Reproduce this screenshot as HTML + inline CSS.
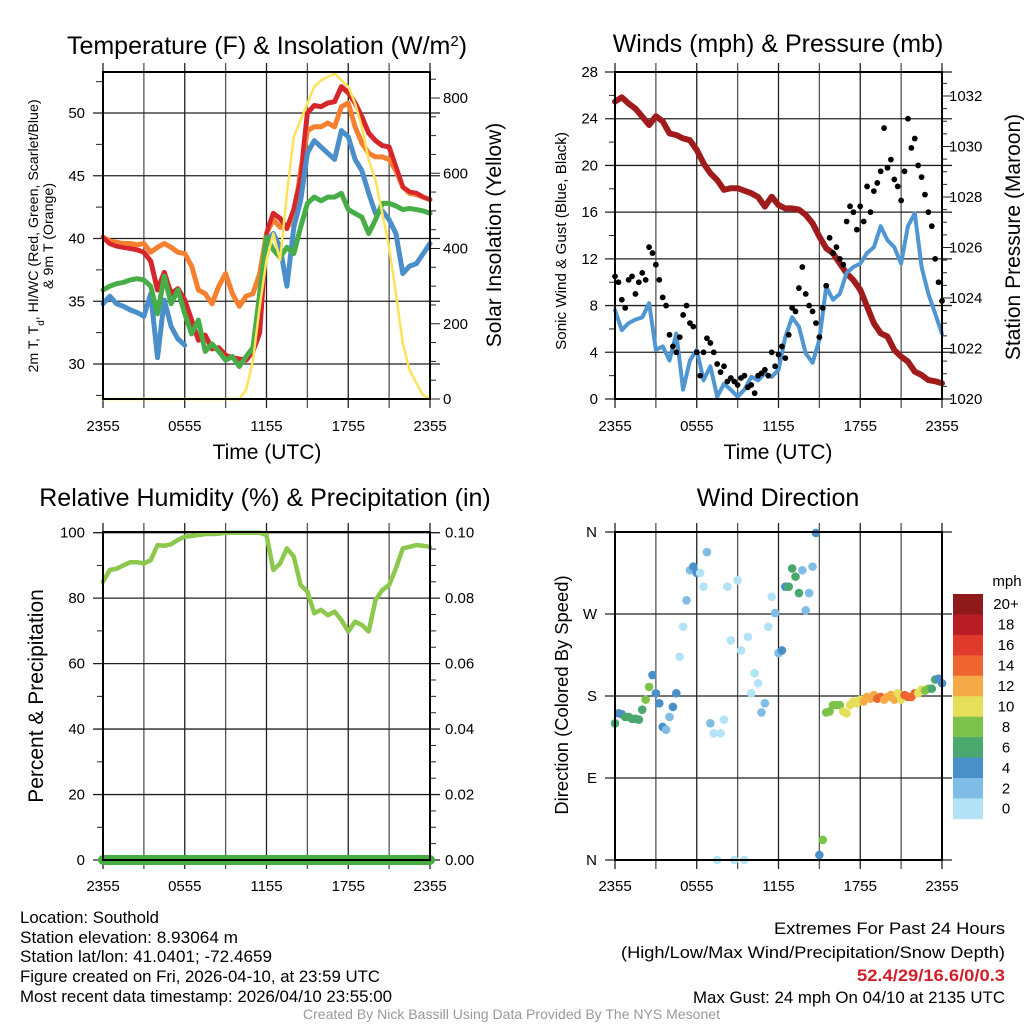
<!DOCTYPE html>
<html><head><meta charset="utf-8"><style>
html,body{margin:0;padding:0;background:#fff;}
svg{display:block;font-family:"Liberation Sans",Arial,sans-serif;}
</style></head><body>
<svg id="chart" width="1024" height="1024" viewBox="0 0 1024 1024" xmlns="http://www.w3.org/2000/svg">
<rect x="0" y="0" width="1024" height="1024" fill="#fff"/>
<g id="layer"></g>
<!-- titles -->
<text x="267" y="54" font-size="25" text-anchor="middle">Temperature (F) &amp; Insolation (W/m<tspan baseline-shift="super" font-size="15">2</tspan>)</text>
<text x="778" y="52" font-size="25" text-anchor="middle">Winds (mph) &amp; Pressure (mb)</text>
<text x="265" y="506" font-size="25" text-anchor="middle">Relative Humidity (%) &amp; Precipitation (in)</text>
<text x="778" y="506" font-size="25" text-anchor="middle">Wind Direction</text>
<text x="267" y="459" font-size="21" text-anchor="middle">Time (UTC)</text>
<text x="778" y="459" font-size="21" text-anchor="middle">Time (UTC)</text>
<text font-size="14.2" text-anchor="middle" transform="translate(38,236) rotate(-90)">2m T, T<tspan baseline-shift="sub" font-size="10">d</tspan>, HI/WC (Red, Green, Scarlet/Blue)</text>
<text font-size="14.2" text-anchor="middle" transform="translate(53,236) rotate(-90)">&amp; 9m T (Orange)</text>
<text font-size="21" text-anchor="middle" transform="translate(501,235) rotate(-90)">Solar Insolation (Yellow)</text>
<text font-size="15.2" text-anchor="middle" transform="translate(566,241) rotate(-90)">Sonic Wind &amp; Gust (Blue, Black)</text>
<text font-size="21" text-anchor="middle" transform="translate(1020,237) rotate(-90)">Station Pressure (Maroon)</text>
<text font-size="21" text-anchor="middle" transform="translate(43,696) rotate(-90)">Percent &amp; Precipitation</text>
<text font-size="18.4" text-anchor="middle" transform="translate(568,695) rotate(-90)">Direction (Colored By Speed)</text>
<!-- footer -->
<g font-size="16.5">
<text x="20" y="923" textLength="139" lengthAdjust="spacingAndGlyphs">Location: Southold</text>
<text x="20" y="943" textLength="218" lengthAdjust="spacingAndGlyphs">Station elevation: 8.93064 m</text>
<text x="20" y="962" textLength="252" lengthAdjust="spacingAndGlyphs">Station lat/lon: 41.0401; -72.4659</text>
<text x="20" y="982" textLength="360" lengthAdjust="spacingAndGlyphs">Figure created on Fri, 2026-04-10, at 23:59 UTC</text>
<text x="20" y="1002" textLength="372" lengthAdjust="spacingAndGlyphs">Most recent data timestamp: 2026/04/10 23:55:00</text>
</g>
<g font-size="16.5">
<text x="774" y="934" textLength="231" lengthAdjust="spacingAndGlyphs">Extremes For Past 24 Hours</text>
<text x="621" y="958" textLength="384" lengthAdjust="spacingAndGlyphs">(High/Low/Max Wind/Precipitation/Snow Depth)</text>
<text x="857" y="981" textLength="148" lengthAdjust="spacingAndGlyphs" fill="#d0202a" font-weight="bold">52.4/29/16.6/0/0.3</text>
<text x="693" y="1003" textLength="312" lengthAdjust="spacingAndGlyphs">Max Gust: 24 mph On 04/10 at 2135 UTC</text>
</g>
<text x="303" y="1019" font-size="14" fill="#999" textLength="417" lengthAdjust="spacingAndGlyphs">Created By Nick Bassill Using Data Provided By The NYS Mesonet</text>
</svg>
<script>
// ---- data (half-hourly from 2355 UTC) ----
const xTickLabels = ["2355","0555","1155","1755","2355"];
const tempTicks = [30,35,40,45,50];
const solarTicks = [0,200,400,600,800];
const windTicks = [0,4,8,12,16,20,24,28];
const presTicks = [1020,1022,1024,1026,1028,1030,1032];
const rhTicks = [0,20,40,60,80,100];
const precipTicks = ["0.00","0.02","0.04","0.06","0.08","0.10"];
const dirTicks = ["N","E","S","W","N"];
const speedBins = ["0","2","4","6","8","10","12","14","16","18","20+"];
const temp2m = [40.1,39.6,39.4,39.3,39.2,39.1,38.9,38.2,35.9,37.3,35.6,36.0,35.1,33.5,31.9,32.3,31.2,31.3,30.7,30.5,30.4,30.3,31.0,32.5,40.4,42.0,41.6,40.8,42.3,44.9,50.0,50.6,50.5,50.8,50.9,52.1,51.6,50.8,49.7,48.4,47.8,47.4,47.3,45.7,44.1,43.7,43.6,43.3,43.1];
const temp9m = [40.1,39.8,39.7,39.6,39.6,39.5,39.6,38.9,39.3,39.6,39.3,38.9,38.8,37.8,35.9,35.6,34.8,36.2,37.2,35.6,34.6,35.4,35.6,37.2,40.4,41.5,40.9,40.9,41.5,45.4,48.6,48.9,48.9,49.2,48.9,50.5,50.8,48.9,47.6,46.8,46.5,46.5,46.3,45.4,44.1,43.6,43.5,43.3,43.1];
const windChill = [34.8,35.4,34.8,34.6,34.3,34.1,33.8,35.6,30.5,35.1,33.0,32.0,31.5,null,null,null,null,null,null,null,null,null,null,35.6,39.8,40.4,39.3,36.2,40.9,43.0,46.8,47.8,47.3,46.8,46.3,48.6,48.1,46.3,45.4,43.6,42.0,42.2,41.5,40.4,37.2,37.8,38.0,38.8,39.6];
const dewpoint = [35.9,36.2,36.4,36.5,36.7,36.8,36.7,36.2,34.0,37.0,34.8,35.9,34.0,32.4,33.5,31.0,31.6,31.0,30.3,30.6,29.8,30.6,31.3,35.6,40.1,39.1,38.5,39.3,38.8,40.9,42.8,43.3,43.0,43.3,43.3,43.6,42.3,42.0,41.7,40.4,41.5,42.8,42.8,42.6,42.3,42.4,42.3,42.2,42.0];
const solar = [0,0,0,0,0,0,0,0,0,0,0,0,0,0,0,0,0,0,0,0,0,24,101,245,369,440,369,546,697,741,785,830,847,856,865,847,830,785,723,635,582,493,404,280,148,77,42,10,0];
const pressure = [1031.78,1031.95,1031.7,1031.5,1031.18,1030.85,1031.2,1031.0,1030.52,1030.45,1030.32,1030.25,1029.86,1029.33,1028.94,1028.67,1028.28,1028.35,1028.35,1028.25,1028.15,1028.0,1027.62,1028.01,1027.68,1027.55,1027.55,1027.5,1027.29,1026.96,1026.43,1025.97,1025.77,1025.37,1024.98,1024.71,1024.32,1023.66,1023.0,1022.6,1022.47,1021.94,1021.68,1021.48,1021.08,1020.95,1020.75,1020.7,1020.62];
const sonicWind = [7.6,5.9,6.5,6.8,7.0,8.2,4.2,4.5,3.3,5.6,0.8,3.3,4.2,1.6,2.8,0.2,1.3,0.8,0.2,0.8,1.9,1.6,2.2,1.9,2.5,5.3,7.0,6.2,3.9,3.1,5.1,9.6,8.5,9.0,10.8,11.3,11.6,12.5,13.0,14.8,13.6,13.0,11.6,14.8,15.9,11.3,9.0,7.3,5.6];
const relHum = [85,88.6,89,90,91,91,90.6,91.6,96.2,96,96.5,97.8,98.8,99,99.3,99.6,99.6,99.7,100,100,100,100,100,100,99.3,88.6,90.6,95.2,92.7,84,82,75.4,76.4,74.8,75.9,73.3,69.8,72.8,71.8,69.8,79.4,82.5,84,89.1,95.2,95.7,96.2,96,95.7];
const precip = [0,0,0,0,0,0,0,0,0,0,0,0,0,0,0,0,0,0,0,0,0,0,0,0,0,0,0,0,0,0,0,0,0,0,0,0,0,0,0,0,0,0,0,0,0,0,0,0,0];
// quarter-hourly
const gusts = [10.5,10.0,8.5,7.8, 10.2,10.5,9.0,10.0, 10.8,10.2,13.0,12.5, 11.5,10.2,8.7,8.0, 5.5,4.5,4.0,5.3, 7.2,8.0,6.5,6.2, 4.0,2.0,4.0,5.2, 4.8,4.0,3.0,2.3, 2.8,1.5,1.8,1.5, 1.2,1.8,2.0,1.0, 1.2,0.5,2.0,2.2, 2.5,2.0,4.0,2.8, 3.8,4.5,3.5,5.5, 7.8,7.5,9.5,11.3, 9.0,8.0,7.5,6.5, 5.3,7.8,9.7,13.8, 12.5,13.0,12.0,11.5, 15.2,16.5,16.0,14.5, 16.5,15.2,18.2,16.0, 17.8,18.5,19.5,23.2, 19.8,20.5,18.8,18.2, 17.0,19.5,24.0,21.5, 22.3,20.0,19.0,17.5, 16.0,14.8,12.0,10.0, 8.4];
const windDir = [150,161,160,157, 157,155,155,154, 165,176,190,203, 183,172,146,143, 157,168,183,223, 256,285,318,322, 315,315,300,338, 150,139,0,139, 154,300,241,0, 307,230,0,245, 183,205,194,162, 172,256,289,271, 227,230,300,300, 320,311,293,318, 274,293,322,359, 5.5,22,162,163, 170,170,170,163, 161,170,174,172, 176,174,179,177, 181,177,179,176, 179,181,176,183, 176,181,179,179, 183,183,187,186, 188,188,198,199, 194];
const binColors = ["#b3e3f7","#7fbce6","#4a90c8","#4aa86e","#7dc24b","#e6df5a","#f6a947","#ef6530","#df3a2b","#b81c25","#8e1a1a"];

const NS = "http://www.w3.org/2000/svg";
const layer = document.getElementById("layer");
function el(tag, attrs, parent){ const e=document.createElementNS(NS,tag); for(const k in attrs) e.setAttribute(k,attrs[k]); (parent||layer).appendChild(e); return e; }

const P1={x0:103,x1:430,y0:72,y1:399}, P2={x0:615,x1:942,y0:72,y1:399}, P3={x0:103,x1:430,y0:532,y1:860}, P4={x0:615,x1:942,y0:532,y1:860};
function xs(P,h){ return P.x0 + h/24*(P.x1-P.x0); }
function lin(d0,d1,r0,r1){ return v => r0 + (v-d0)/(d1-d0)*(r1-r0); }
const yTemp = lin(30,50,364,113);
const ySolar = lin(0,800,399,98);
const yWind = lin(0,28,399,72);
const yPres = lin(1020,1032,399,96);
const yRH = lin(0,100,860,532.7);
const yPrecip = lin(0,0.1,860,532.7);
const yDir = lin(0,360,860,532);

function grid(P, name){
  const g = el("g",{});
  
  
  for(let i=0;i<=8;i++){ const x=xs(P,i*3); el("line",{x1:x,x2:x,y1:P.y0-9,y2:P.y1+9,stroke:(i%2? "#555":"#222"),"stroke-width":1.3},g); }
  return g;
}
function hline(P,y,g){ el("line",{x1:P.x0-10,x2:P.x1+10,y1:y,y2:y,stroke:"#222","stroke-width":1.3},g); }
function frame(P,name){ const r=el("rect",{x:P.x0,y:P.y0,width:P.x1-P.x0,height:P.y1-P.y0,fill:"none",stroke:"#000","stroke-width":2});
  
   }
function xLabels(P,y,name){
  xTickLabels.forEach((t,i)=>{ const tx=el("text",{x:xs(P,i*6),y:y,"font-size":15,"text-anchor":"middle"}); tx.textContent=t;
    
     });
}
function tick(x1,x2,y,g){ el("line",{x1:x1,x2:x2,y1:y,y2:y,stroke:"#222","stroke-width":1},g); }
function label(x,y,t,anchor,name,size){ const tx=el("text",{x:x,y:y,"font-size":size||15,"text-anchor":anchor}); tx.textContent=t;
  
   return tx; }
function path(P,arr,yf,color,w,name,step){
  step=step||0.5; let d="", pen=false;
  arr.forEach((v,i)=>{ if(v===null){pen=false;return;} const x=xs(P,i*step), y=yf(v); d+=(pen?"L":"M")+x.toFixed(1)+","+y.toFixed(1); pen=true; });
  const p=el("path",{d:d,fill:"none",stroke:color,"stroke-width":w,"stroke-linejoin":"round","stroke-linecap":"round"});
  
  
  return p;
}
function binOf(s){ return Math.min(10, Math.max(0, Math.floor(s/2))); }

// ---- Panel 1 ----
{ const g=grid(P1,'temperature');
  tempTicks.forEach(v=>{ hline(P1,yTemp(v),g); label(85,yTemp(v)+5,String(v),"end","temperature-y-tick-label"); });
  for(let v=27.5; v<=52.5; v+=5) tick(P1.x0-7,P1.x0,yTemp(v),g);
  solarTicks.forEach(v=>{ tick(P1.x1,P1.x1+10,ySolar(v),g); label(443,ySolar(v)+5,String(v),"start","solar-y-tick-label"); });
  for(let v=50; v<=850; v+=50) if(v%200) tick(P1.x1,P1.x1+6,ySolar(v),g);
  path(P1,temp2m,yTemp,"#d7262b",5,"temperature-2m-line");
  path(P1,temp9m,yTemp,"#f6802f",5,"temperature-9m-line");
  path(P1,temp2m,yTemp,"#d7262b",4,"temperature-2m-line-top");
  path(P1,windChill,yTemp,"#4b8fca",5,"wind-chill-line");
  path(P1,dewpoint,yTemp,"#47ae47",5,"dewpoint-line");
  path(P1,solar,ySolar,"#fde35a",2.5,"solar-insolation-line");
  frame(P1,'temperature'); xLabels(P1,431,'temperature');
}
// ---- Panel 2 ----
{ const g=grid(P2,'winds');
  windTicks.forEach(v=>{ hline(P2,yWind(v),g); label(598,yWind(v)+5,String(v),"end","wind-y-tick-label"); });
  for(let v=2; v<28; v+=4) tick(P2.x0-6,P2.x0,yWind(v),g);
  presTicks.forEach(v=>{ tick(P2.x1,P2.x1+10,yPres(v),g); label(949,yPres(v)+5,String(v),"start","pressure-y-tick-label"); });
  for(let v=1020.5; v<1033; v+=0.5) if(v%2) tick(P2.x1,P2.x1+5,yPres(v),g);
  path(P2,pressure,yPres,"#a01c1c",6,"pressure-line");
  path(P2,sonicWind,yWind,"#4f96d2",4,"sonic-wind-line");
  gusts.forEach((v,i)=>{ const c=el("circle",{cx:xs(P2,i*0.25),cy:yWind(v),r:2.9,fill:"#000"});
    
     });
  frame(P2,'winds'); xLabels(P2,431,'winds');
}
// ---- Panel 3 ----
{ const g=grid(P3,'humidity');
  rhTicks.forEach((v,i)=>{ hline(P3,yRH(v),g); label(85,yRH(v)+5,String(v),"end","humidity-y-tick-label"); label(445,yRH(v)+5,precipTicks[i],"start","precip-y-tick-label"); });
  for(let v=10; v<100; v+=20) tick(P3.x0-6,P3.x0,yRH(v),g);
  for(let v=5; v<100; v+=5) if(v%20) tick(P3.x1,P3.x1+6,yRH(v),g);
  path(P3,relHum,yRH,"#8cc84b",4.5,"relative-humidity-line");
  path(P3,precip,yPrecip,"#46ad43",10,"precipitation-line");
  frame(P3,'humidity'); xLabels(P3,891,'humidity');
}
// ---- Panel 4 ----
{ const g=grid(P4,'direction');
  dirTicks.forEach((t,i)=>{ const y=yDir(i*90); hline(P4,y,g); label(597,y+5,t,"end","direction-y-tick-label"); });
  windDir.forEach((v,i)=>{ const s=sonicWind[Math.min(48,Math.round(i/2))];
    const c=el("circle",{cx:xs(P4,i*0.25),cy:yDir(v),r:4.3,fill:binColors[binOf(s)]});
    
     });
  frame(P4,'direction'); xLabels(P4,891,'direction');
  const cb=el("g",{});
  
  
  const top=594, bh=20.45;
  speedBins.forEach((t,i)=>{ const k=10-i; const y=top+i*bh;
    el("rect",{x:953,y:y,width:30,height:bh+0.3,fill:binColors[k]},cb);
    label(1006,y+bh/2+5,speedBins[k],"middle","colorbar-label",15); });
  label(1007,586,"mph","middle","colorbar-title",15);
}
</script>
</body></html>
